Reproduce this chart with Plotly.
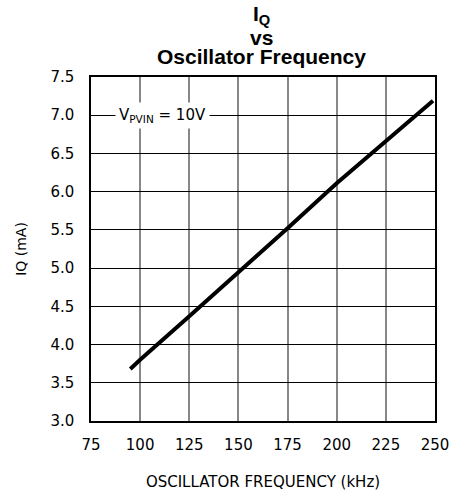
import plotly.graph_objects as go

freq_khz = [95, 100, 125, 150, 175, 200, 225, 249]
iq_ma = [3.68, 3.80, 4.37, 4.94, 5.52, 6.11, 6.66, 7.19]
x_ticks = [75, 100, 125, 150, 175, 200, 225, 250]
y_ticks = [3.0, 3.5, 4.0, 4.5, 5.0, 5.5, 6.0, 6.5, 7.0, 7.5]
title_lines = ["<b>I<sub>Q</sub></b>", "<b>vs</b>", "<b>Oscillator Frequency</b>"]

font_fam = "DejaVu Sans"
L, R, T, B, W, H = 91, 20, 77, 74, 455, 495
ph = H - T - B
pw = W - L - R

fig = go.Figure()
fig.add_trace(go.Scatter(x=freq_khz, y=iq_ma, mode="lines",
                         line=dict(color="black", width=4), showlegend=False))

fig.update_layout(
    width=W, height=H,
    margin=dict(l=L, r=R, t=T, b=B),
    paper_bgcolor="white", plot_bgcolor="white",
    font=dict(family=font_fam, size=15, color="black"),
)
fig.update_xaxes(range=[75, 250], tickvals=x_ticks, ticktext=[str(v) for v in x_ticks],
                 showgrid=True, gridcolor="#888888", gridwidth=1.5,
                 showline=True, linecolor="black", linewidth=1.5, mirror=True,
                 zeroline=False, ticks="", ticklabelstandoff=9, automargin=False,
                 tickfont=dict(family=font_fam, size=15),
                 title=dict(text="OSCILLATOR FREQUENCY (kHz)", standoff=24,
                            font=dict(family=font_fam, size=15)))
fig.update_yaxes(range=[3.0, 7.5], tickvals=y_ticks, ticktext=[f"{v:.1f}" for v in y_ticks],
                 showgrid=True, gridcolor="black", gridwidth=1,
                 showline=True, linecolor="black", linewidth=1.5, mirror=True,
                 zeroline=False, ticks="", ticklabelstandoff=12, automargin=False,
                 tickfont=dict(family=font_fam, size=15),
                 title=dict(text="IQ (mA)", standoff=20,
                            font=dict(family=font_fam, size=14)))

fig.add_annotation(x=111.5, y=7.0, xref="x", yref="y",
                   text="V<sub>PVIN</sub> = 10V", showarrow=False,
                   bgcolor="white", borderpad=3,
                   font=dict(family=font_fam, size=15, color="black"))

# title lines (pixel centres converted to paper coords)
for txt, py in zip(title_lines, [15, 37, 57]):
    fig.add_annotation(x=(261 - L) / pw, y=(H - B - py) / ph, xref="paper", yref="paper",
                       text=txt, showarrow=False, xanchor="center", yanchor="middle",
                       font=dict(family="Liberation Sans", size=21, color="black"))

fig.write_html("out.html", config={"displayModeBar": False},
               post_script="document.body.style.margin='0';document.body.style.padding='0';")
